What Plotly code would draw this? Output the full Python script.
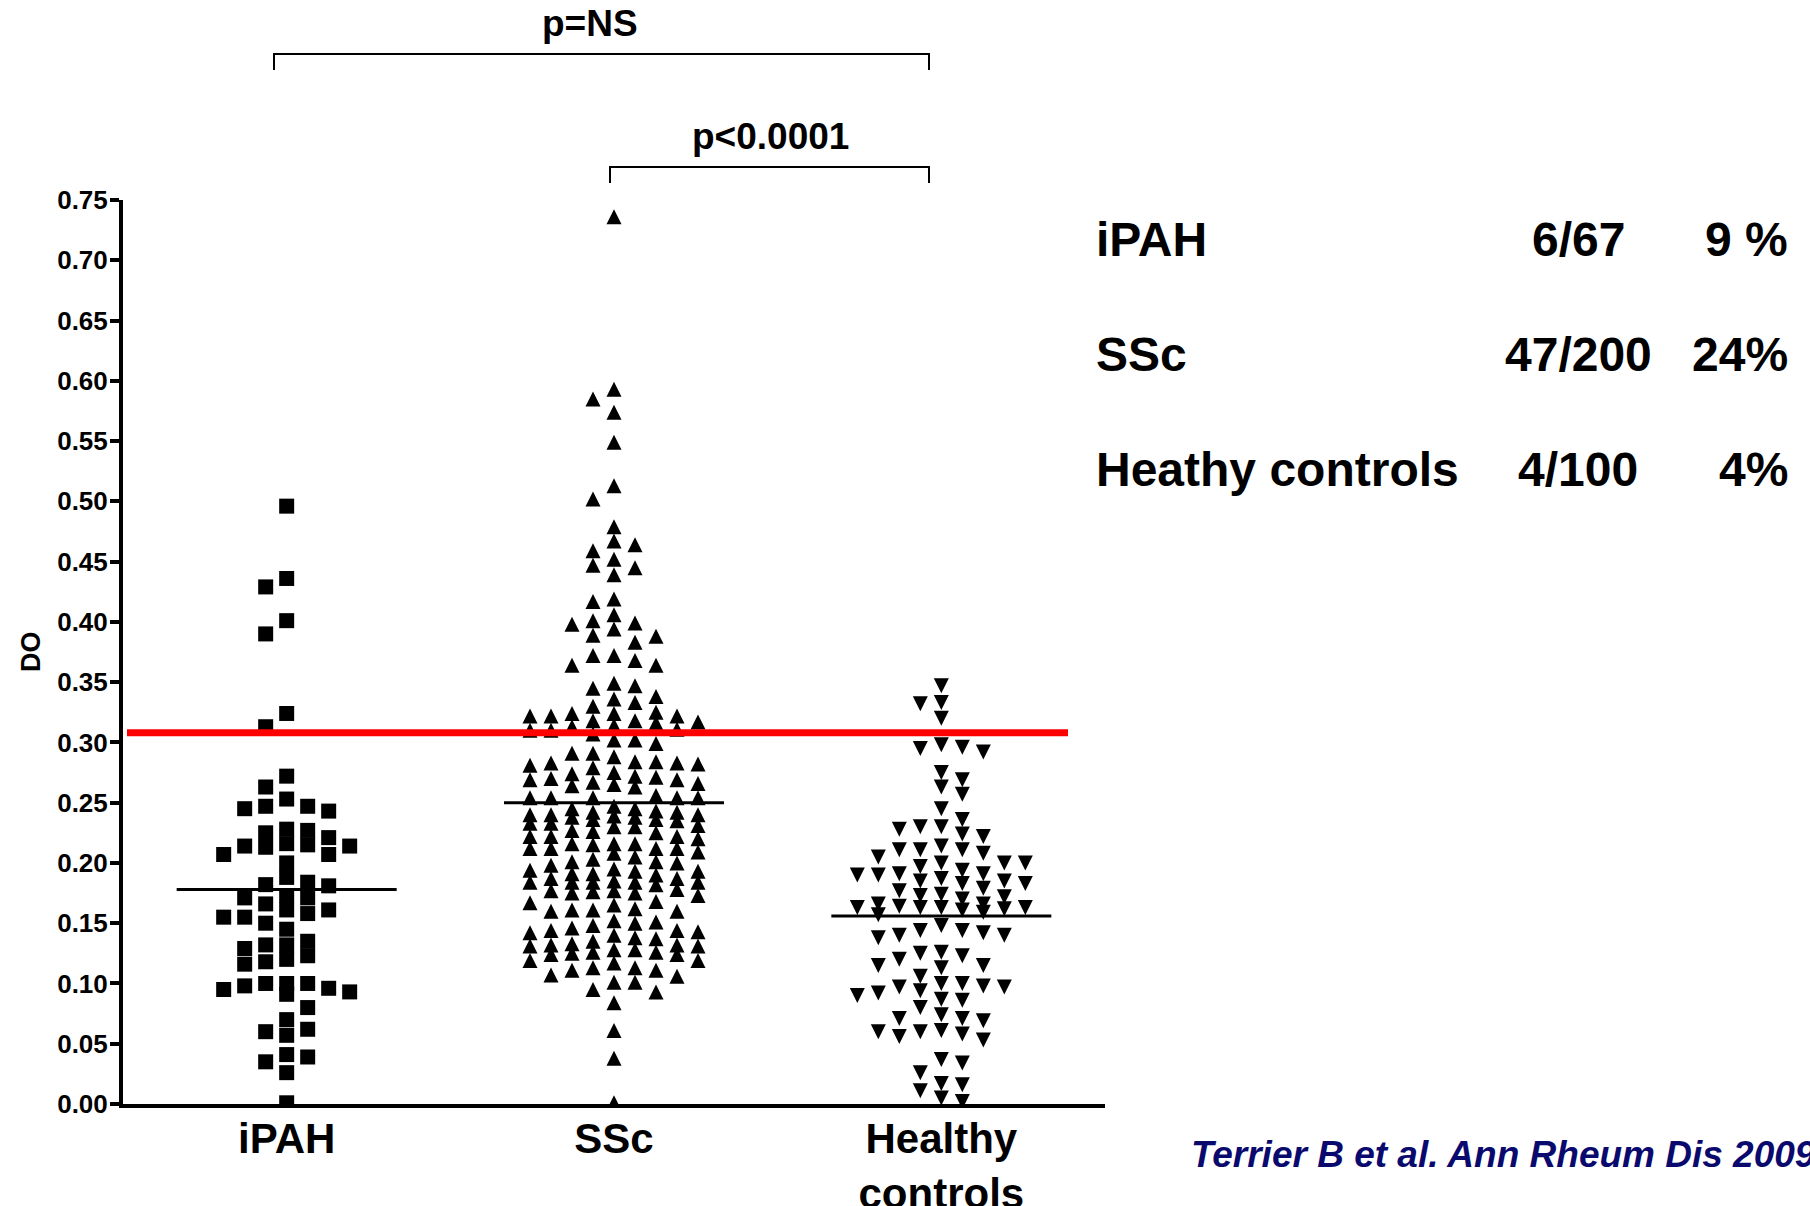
import numpy as np
import plotly.graph_objects as go

# ---------------- data ----------------
categories = ["iPAH", "SSc", "Healthy<br>controls"]

ipah_do = [0.496, 0.436, 0.429, 0.401, 0.390, 0.324, 0.313, 0.272, 0.263, 0.253,
           0.247, 0.245, 0.247, 0.243, 0.228, 0.225, 0.227, 0.221, 0.216, 0.214,
           0.213, 0.207, 0.207, 0.214, 0.215, 0.200, 0.188, 0.182, 0.181, 0.184,
           0.173, 0.171, 0.166, 0.171, 0.161, 0.158, 0.155, 0.155, 0.161, 0.150,
           0.145, 0.132, 0.129, 0.135, 0.132, 0.120, 0.118, 0.123, 0.116, 0.098,
           0.095, 0.100, 0.091, 0.100, 0.100, 0.093, 0.096, 0.080, 0.070, 0.062,
           0.057, 0.060, 0.041, 0.035, 0.039, 0.026, 0.001]

ssc_do = [0.736, 0.593, 0.585, 0.574, 0.549, 0.513, 0.502, 0.479, 0.464, 0.459,
          0.467, 0.452, 0.447, 0.439, 0.445, 0.417, 0.419, 0.406, 0.401, 0.398,
          0.399, 0.394, 0.389, 0.383, 0.388, 0.372, 0.372, 0.364, 0.364, 0.368,
          0.349, 0.345, 0.347,
          0.338, 0.333, 0.336, 0.330, 0.325, 0.324, 0.322, 0.318, 0.322, 0.317,
          0.322, 0.318, 0.324, 0.316, 0.313, 0.310, 0.307, 0.310, 0.311, 0.314,
          0.299, 0.302, 0.302, 0.291, 0.284, 0.283, 0.279, 0.282, 0.274, 0.281,
          0.272, 0.283, 0.275, 0.284, 0.288, 0.291, 0.271, 0.269, 0.267, 0.265,
          0.263, 0.264, 0.266, 0.269, 0.270, 0.254, 0.254, 0.254, 0.254, 0.254,
          0.256, 0.245, 0.247, 0.245, 0.243, 0.242, 0.236, 0.240, 0.235, 0.238,
          0.233, 0.239, 0.231, 0.240, 0.233, 0.240, 0.236, 0.242, 0.238, 0.230,
          0.230, 0.227, 0.225, 0.222, 0.220, 0.215, 0.222, 0.216, 0.222, 0.226,
          0.216, 0.216, 0.209, 0.212, 0.212, 0.212, 0.208, 0.212, 0.205, 0.201,
          0.201, 0.203, 0.200, 0.195, 0.193, 0.191, 0.191, 0.193, 0.194, 0.198,
          0.190, 0.187, 0.185, 0.184, 0.182, 0.184, 0.184, 0.184, 0.184, 0.187,
          0.176, 0.175, 0.178, 0.168, 0.177, 0.165, 0.161, 0.162, 0.160, 0.167,
          0.161, 0.173, 0.175, 0.177, 0.160, 0.151, 0.148, 0.144, 0.143, 0.144,
          0.137, 0.146, 0.140, 0.150, 0.152, 0.142, 0.138, 0.131, 0.128, 0.135,
          0.126, 0.132, 0.124, 0.133, 0.124, 0.125, 0.126, 0.128, 0.131, 0.132,
          0.119, 0.117, 0.119, 0.113, 0.111, 0.106, 0.107, 0.111, 0.113, 0.101,
          0.093, 0.095, 0.101, 0.084, 0.061, 0.038, 0.001]

healthy_do = [0.347, 0.333, 0.332, 0.320, 0.298, 0.295, 0.292, 0.296, 0.275, 0.269,
              0.263, 0.257, 0.245, 0.230, 0.228, 0.222, 0.224, 0.230, 0.236, 0.214,
              0.211, 0.208, 0.200, 0.200, 0.191, 0.197, 0.191, 0.200, 0.194, 0.205,
              0.211, 0.211, 0.190, 0.187, 0.185, 0.183, 0.177, 0.179, 0.172, 0.183,
              0.174, 0.185, 0.190, 0.173, 0.170, 0.166, 0.166, 0.163, 0.163, 0.162,
              0.159, 0.157, 0.161, 0.163, 0.163, 0.164, 0.148, 0.144, 0.140, 0.138,
              0.140, 0.142, 0.144, 0.125, 0.120, 0.115, 0.113, 0.115, 0.123, 0.126,
              0.106, 0.100, 0.097, 0.094, 0.097, 0.098, 0.100, 0.090, 0.087, 0.086,
              0.092, 0.080, 0.074, 0.071, 0.069, 0.071, 0.060, 0.058, 0.053, 0.056,
              0.060, 0.061, 0.034, 0.037, 0.026, 0.017, 0.011, 0.016, 0.002, 0.005]

group_lines = [0.178, 0.250, 0.156]      # horizontal centre lines of each group
cutoff = 0.308                            # positivity threshold (red line)
y_ticks = [0.00, 0.05, 0.10, 0.15, 0.20, 0.25, 0.30, 0.35,
           0.40, 0.45, 0.50, 0.55, 0.60, 0.65, 0.70, 0.75]

p_labels = ["p=NS", "p<0.0001"]
table_names = ["iPAH", "SSc", "Heathy controls"]
table_ratio = ["6/67", "47/200", "4/100"]
table_pct = ["9 %", "24%", "4%"]
citation = "Terrier B et al. Ann Rheum Dis 2009"

# ---------------- geometry ----------------
FIG_W, FIG_H = 1810, 1206
L, R, T, B = 123, 705, 200, 102
PLOT_W = FIG_W - L - R
PLOT_H = FIG_H - T - B
X_RANGE = [-0.5, 2.5]
Y_RANGE = [0.0, 0.75]
PX_X = PLOT_W / (X_RANGE[1] - X_RANGE[0])
PX_Y = PLOT_H / (Y_RANGE[1] - Y_RANGE[0])

SYM = 15          # marker size in px
SLOT_W = 21.0     # horizontal spacing between neighbouring columns (px)
SLOT_H = 14.0     # vertical collision distance (px)
MAX_COLS = [3, 4, 4]


def px_x(px):
    return (px - L) / PLOT_W


def px_y(py):
    return (FIG_H - B - py) / PLOT_H


def swarm(values, max_cols):
    vals = np.asarray(values, dtype=float)
    order = np.argsort(-vals, kind="stable")
    placed = []
    offs = np.zeros(len(vals))
    for n, i in enumerate(order):
        y = vals[i] * PX_Y
        sgn = -1 if n % 2 == 0 else 1
        ints = [0.0]
        for k in range(1, max_cols + 1):
            ints += [sgn * k * SLOT_W, -sgn * k * SLOT_W]
        halves = []
        for k in range(max_cols):
            h = (k + 0.5) * SLOT_W
            halves += [sgn * h, -sgn * h]

        def gap(c):
            return min((abs(y - py) for px, py in placed if abs(c - px) < SLOT_W - 1e-6),
                       default=1e9)

        chosen = None
        for c in ints + halves:
            if gap(c) >= SLOT_H:
                chosen = c
                break
        if chosen is None:
            best = -1.0
            for c in ints + halves:
                g = gap(c)
                if g > best:
                    best, chosen = g, c
        placed.append((chosen, y))
        offs[i] = chosen
    return offs / PX_X


FONT = "Liberation Sans, Arial, sans-serif"

fig = go.Figure()

groups = [ipah_do, ssc_do, healthy_do]
symbols = ["square", "arrow-up", "arrow-down"]
r_units = (SYM / 2) / PX_Y
shift = [0.0, r_units, -r_units]   # arrow symbols are anchored at their tip

for gi, (vals, sym) in enumerate(zip(groups, symbols)):
    xo = swarm(vals, MAX_COLS[gi])
    fig.add_trace(go.Scatter(
        x=gi + xo,
        y=np.asarray(vals) + shift[gi],
        mode="markers",
        marker=dict(symbol=sym, size=SYM, color="black", line=dict(width=0)),
        hoverinfo="skip", showlegend=False,
    ))

half_len = 110 / PX_X
for gi, m in enumerate(group_lines):
    fig.add_trace(go.Scatter(
        x=[gi - half_len, gi + half_len], y=[m, m], mode="lines",
        line=dict(color="black", width=3), hoverinfo="skip", showlegend=False,
    ))

# red cut-off line
fig.add_shape(type="line", xref="x", yref="y",
              x0=(127 - L) / PX_X + X_RANGE[0], x1=(1068 - L) / PX_X + X_RANGE[0],
              y0=cutoff, y1=cutoff, line=dict(color="#ff0000", width=7), layer="above")


def bracket(xl, xr, ytop, ybot):
    return (f"M {px_x(xl)},{px_y(ybot)} L {px_x(xl)},{px_y(ytop)} "
            f"L {px_x(xr)},{px_y(ytop)} L {px_x(xr)},{px_y(ybot)}")


fig.add_shape(type="path", xref="paper", yref="paper", path=bracket(274, 929, 54, 70),
              line=dict(color="black", width=2))
fig.add_shape(type="path", xref="paper", yref="paper", path=bracket(610, 929, 167, 183),
              line=dict(color="black", width=2))

ann = []
ann.append(dict(x=px_x(590), y=px_y(24), text=p_labels[0],
                font=dict(family=FONT, size=37, color="black", weight="bold")))
ann.append(dict(x=px_x(770), y=px_y(137), text=p_labels[1],
                font=dict(family=FONT, size=37, color="black", weight="bold")))

row_y = [240, 354, 470]
for name, ratio, pct, yy in zip(table_names, table_ratio, table_pct, row_y):
    ann.append(dict(x=px_x(1094), y=px_y(yy), text=name, xanchor="left",
                    font=dict(family=FONT, size=48, color="black", weight="bold")))
    ann.append(dict(x=px_x(1578), y=px_y(yy), text=ratio, xanchor="center",
                    font=dict(family=FONT, size=48, color="black", weight="bold")))
    ann.append(dict(x=px_x(1790), y=px_y(yy), text=pct, xanchor="right",
                    font=dict(family=FONT, size=48, color="black", weight="bold")))

ann.append(dict(x=px_x(1189), y=px_y(1154), text=citation, xanchor="left",
                font=dict(family=FONT, size=37, color="#0a0a6e", weight="bold",
                          style="italic")))

ann.append(dict(x=px_x(31), y=0.5, text="DO", textangle=-90,
                font=dict(family=FONT, size=27, color="black", weight="bold")))

for a in ann:
    a.setdefault("xanchor", "center")
    a.update(xref="paper", yref="paper", yanchor="middle", showarrow=False)

fig.update_layout(
    width=FIG_W, height=FIG_H,
    margin=dict(l=L, r=R, t=T, b=B, pad=0, autoexpand=False),
    paper_bgcolor="white", plot_bgcolor="white",
    annotations=ann,
    xaxis=dict(range=X_RANGE, tickvals=[0, 1, 2], ticktext=categories,
               showline=True, linewidth=4, linecolor="black", ticks="",
               showgrid=False, zeroline=False, automargin=False,
               ticklabelstandoff=-5,
               tickfont=dict(family=FONT, size=42, color="black", weight="bold")),
    yaxis=dict(range=Y_RANGE, tickvals=y_ticks,
               ticktext=[f"{v:.2f}" for v in y_ticks],
               showline=True, linewidth=4, linecolor="black",
               ticks="outside", ticklen=9, tickwidth=4, tickcolor="black",
               showgrid=False, zeroline=False, automargin=False,
               ticklabelstandoff=-3,
               tickfont=dict(family=FONT, size=26, color="black", weight="bold")),
)

fig.write_html("out.html",
               config={"displayModeBar": False},
               post_script="document.body.style.margin='0px';"
                           "document.body.style.overflow='hidden';")
